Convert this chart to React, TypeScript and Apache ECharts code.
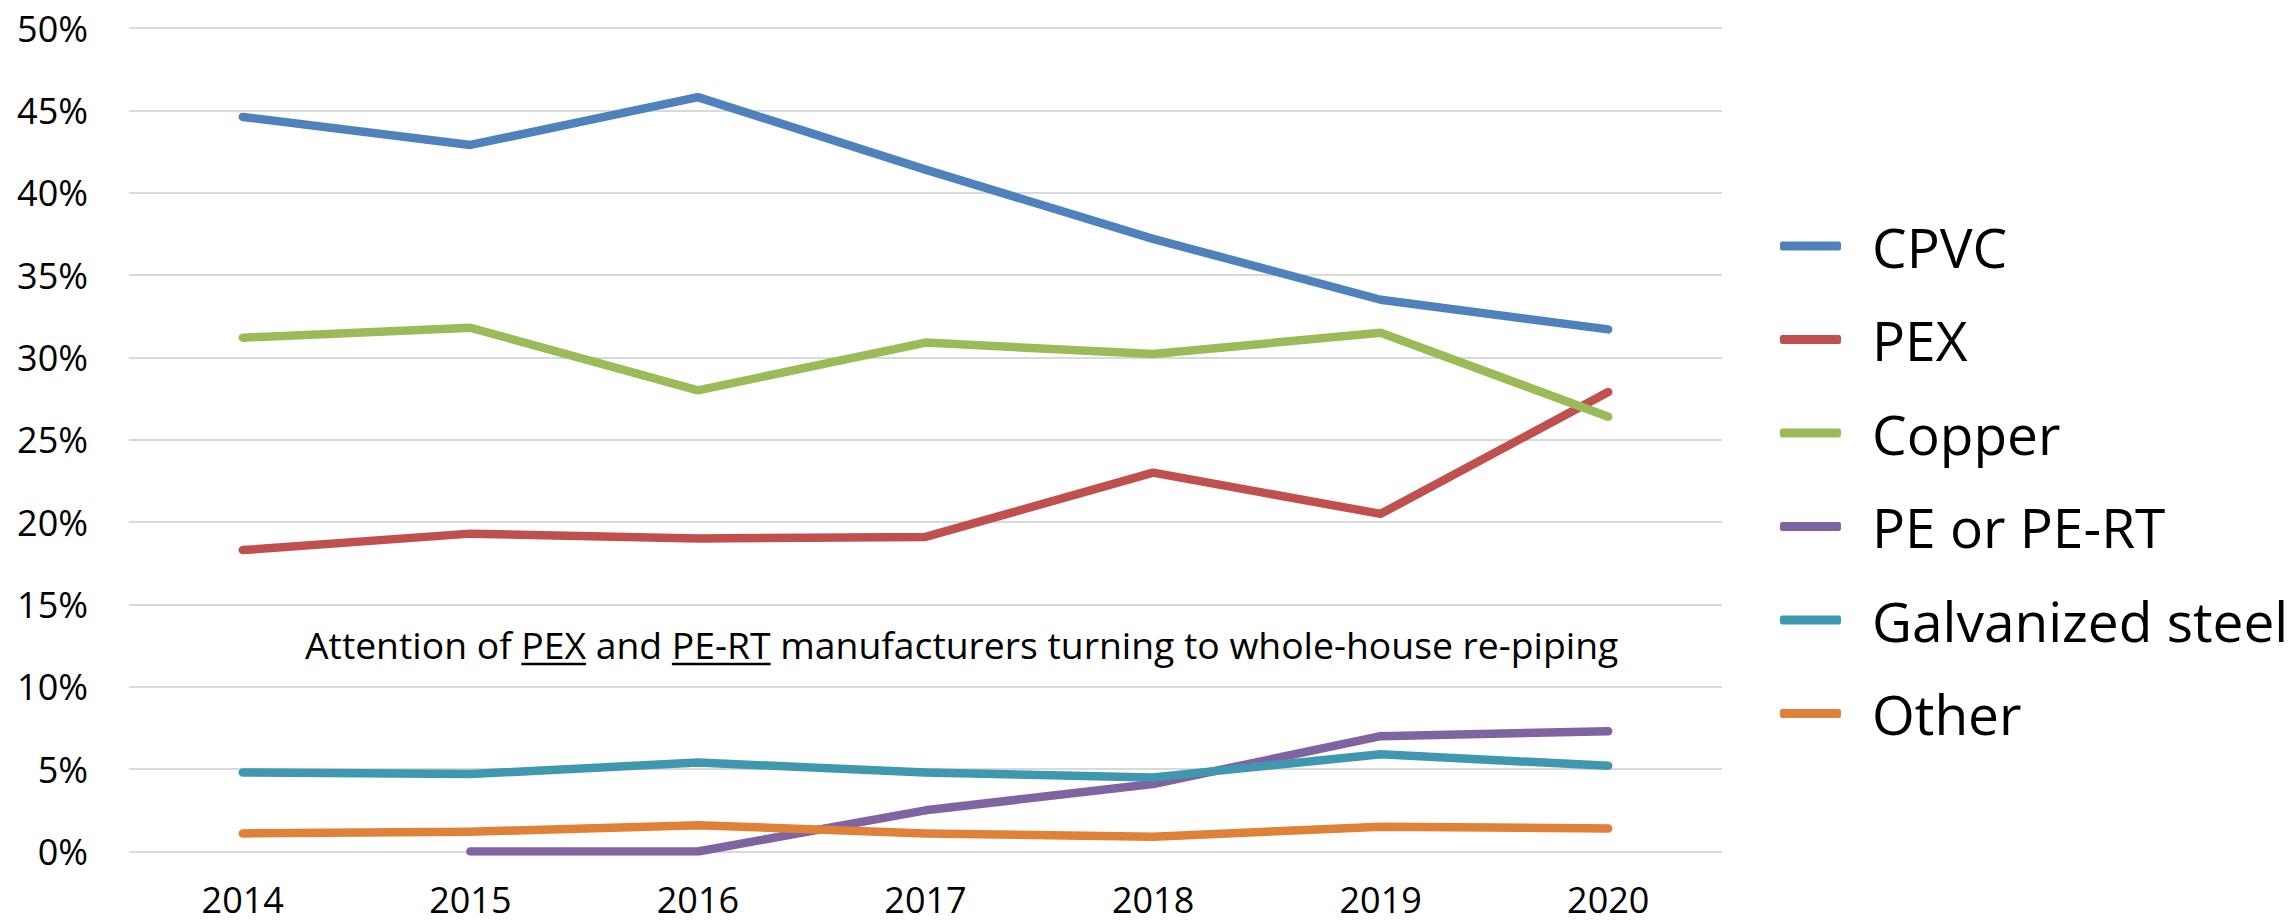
import React, { useEffect, useRef } from "react";
import * as echarts from "echarts";

const years = ["2014", "2015", "2016", "2017", "2018", "2019", "2020"];
const cpvc = [44.6, 42.9, 45.8, 41.4, 37.2, 33.5, 31.7];
const pex = [18.3, 19.3, 19.0, 19.1, 23.0, 20.5, 27.9];
const copper = [31.2, 31.8, 28.0, 30.9, 30.2, 31.5, 26.4];
const pe = [null, 0, 0, 2.5, 4.1, 7.0, 7.3];
const galv = [4.8, 4.7, 5.4, 4.8, 4.5, 5.9, 5.2];
const other = [1.1, 1.2, 1.6, 1.1, 0.9, 1.5, 1.4];

const seriesNames = ["CPVC", "PEX", "Copper", "PE or PE-RT", "Galvanized steel", "Other"];
const seriesData = [cpvc, pex, copper, pe, galv, other];
const colors = ["#4f81bd", "#c0504d", "#9bbb59", "#8064a2", "#3f97b0", "#df8139"];

const notePieces = ["Attention of ", "PEX", " and ", "PE-RT", " manufacturers turning to whole-house re-piping"];
const underlined = [false, true, false, true, false];

const FONT = "'Open Sans', 'Noto Sans', sans-serif";

export default function App() {
  const ref = useRef<HTMLDivElement>(null);
  useEffect(() => {
    document.body.style.margin = "0";
    if (!ref.current) return;
    const chart = echarts.init(ref.current, null, { renderer: "svg" });

    const noteSize = 37.3;
    const ctx = document.createElement("canvas").getContext("2d")!;
    ctx.font = `${noteSize}px ${FONT}`;
    const noteStartX = 305;
    const noteBaseline = 657;
    const noteElems: any[] = [];
    let cx = noteStartX;
    notePieces.forEach((p, i) => {
      const w = ctx.measureText(p).width;
      noteElems.push({
        type: "text",
        x: cx,
        y: noteBaseline - noteSize * 0.34,
        style: {
          text: p,
          fontSize: noteSize,
          fontFamily: FONT,
          fill: "#000",
          align: "left",
          verticalAlign: "middle",
        },
      });
      if (underlined[i]) {
        noteElems.push({
          type: "line",
          shape: { x1: cx, y1: noteBaseline + 7, x2: cx + w, y2: noteBaseline + 7 },
          style: { stroke: "#000", lineWidth: 2.5 },
        });
      }
      cx += w;
    });

    chart.setOption({
      animation: false,
      backgroundColor: "#ffffff",
      grid: { left: 129, right: 571, top: 28, bottom: 72.5, containLabel: false },
      legend: {
        orient: "vertical",
        left: 1775,
        top: 211,
        itemWidth: 61,
        itemHeight: 9,
        itemGap: 33.5,
        icon: "roundRect",
        textStyle: {
          fontSize: 55,
          fontFamily: FONT,
          color: "#000",
          lineHeight: 60,
          padding: [0, 0, 0, 26],
        },
        data: seriesNames,
      },
      xAxis: {
        type: "category",
        data: years,
        boundaryGap: true,
        axisLine: { show: false },
        axisTick: { show: false },
        axisLabel: { fontSize: 36, fontFamily: FONT, color: "#000", margin: 30, interval: 0 },
      },
      yAxis: {
        type: "value",
        min: 0,
        max: 50,
        interval: 5,
        axisLine: { show: false },
        axisTick: { show: false },
        axisLabel: { fontSize: 36, fontFamily: FONT, color: "#000", margin: 41, formatter: "{value}%" },
        splitLine: { lineStyle: { color: "#d9d9d9", width: 2 } },
      },
      series: seriesNames.map((n, i) => ({
        name: n,
        type: "line",
        data: seriesData[i],
        symbol: "none",
        showSymbol: false,
        connectNulls: false,
        color: colors[i],
        lineStyle: { width: 8.5, color: colors[i], cap: "round", join: "round" },
        emphasis: { disabled: true },
      })),
      graphic: noteElems,
    });
    return () => chart.dispose();
  }, []);
  return <div ref={ref} style={{ width: 2293, height: 924 }} />;
}
